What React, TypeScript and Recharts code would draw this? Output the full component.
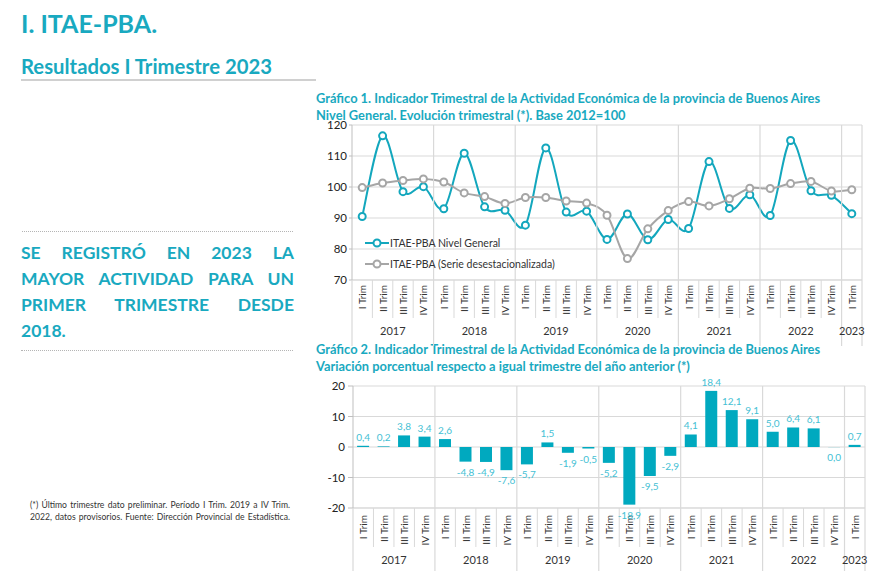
import React from 'react';
import {
  ComposedChart,
  Line,
  Bar,
  XAxis,
  YAxis,
  CartesianGrid,
  LabelList,
} from 'recharts';

// Categorías (I Trim 2017 a I Trim 2023)
const trimestres = [
  'I Trim', 'II Trim', 'III Trim', 'IV Trim',
  'I Trim', 'II Trim', 'III Trim', 'IV Trim',
  'I Trim', 'II Trim', 'III Trim', 'IV Trim',
  'I Trim', 'II Trim', 'III Trim', 'IV Trim',
  'I Trim', 'II Trim', 'III Trim', 'IV Trim',
  'I Trim', 'II Trim', 'III Trim', 'IV Trim',
  'I Trim',
];
const anios = [
  '2017', '2017', '2017', '2017',
  '2018', '2018', '2018', '2018',
  '2019', '2019', '2019', '2019',
  '2020', '2020', '2020', '2020',
  '2021', '2021', '2021', '2021',
  '2022', '2022', '2022', '2022',
  '2023',
];

// Gráfico 1: índice base 2012=100
const nivelGeneral = [
  90.5, 116.5, 98.5, 100.1,
  93.0, 110.9, 93.6, 92.5,
  87.7, 112.6, 91.9, 92.2,
  83.1, 91.3, 83.0, 89.5,
  86.6, 108.2, 93.1, 97.5,
  90.8, 115.0, 98.8, 97.3,
  91.4,
];
const desestacionalizada = [
  99.8, 101.3, 102.1, 102.6,
  101.6, 98.1, 96.9, 94.7,
  96.6, 96.6, 95.5, 94.8,
  90.9, 76.9, 86.5, 92.4,
  95.3, 93.9, 96.2, 99.6,
  99.5, 101.1, 101.8, 98.7,
  99.1,
];

// Gráfico 2: variación % interanual
const variacion = [
  0.4, 0.2, 3.8, 3.4,
  2.6, -4.8, -4.9, -7.6,
  -5.7, 1.5, -1.9, -0.5,
  -5.2, -18.9, -9.5, -2.9,
  4.1, 18.4, 12.1, 9.1,
  5.0, 6.4, 6.1, -0.04,
  0.7,
];

const ticksIndice = [70, 80, 90, 100, 110, 120];
const ticksVariacion = [-20, -10, 0, 10, 20];

const TEAL = '#19a9c0';
const LINEA = '#13a7bd';
const GRIS = '#a6a6a6';
const BARRA = '#00a9bf';
const ETIQUETA = '#45bfd4';
const GRILLA = '#d9d9d9';
const FUENTE = 'Lato, "Open Sans", sans-serif';

const datosIndice = trimestres.map((t, i) => ({
  periodo: `${anios[i]} ${t}`,
  nivel: nivelGeneral[i],
  desest: desestacionalizada[i],
}));

const datosVariacion = trimestres.map((t, i) => ({
  periodo: `${anios[i]} ${t}`,
  variacion: variacion[i],
}));

const fmt = (v: number) => (Math.round(v * 10) / 10).toFixed(1).replace('.', ',');

// eje de categorías de dos niveles (trimestre + año)
const makeTick = (cfg: {
  band: number;
  plotH: number;
  sepQ: number;
  sepY: number;
  textTop: number;
  yearY: number;
}) => (props: any) => {
  const { x, y, index } = props;
  const i = index;
  const left = x - cfg.band / 2;
  const inicio = i === 0 || anios[i] !== anios[i - 1];
  const nAnio = anios.filter((a) => a === anios[i]).length;
  const ultimo = i === trimestres.length - 1;
  return (
    <g>
      {inicio ? (
        <line x1={left} x2={left} y1={i === 0 ? y : y - cfg.plotH} y2={y + cfg.sepY} stroke={GRILLA} strokeWidth={1.2} />
      ) : (
        <line x1={left} x2={left} y1={y} y2={y + cfg.sepQ} stroke={GRILLA} strokeWidth={1} />
      )}
      {ultimo && (
        <line x1={x + cfg.band / 2} x2={x + cfg.band / 2} y1={y - cfg.plotH} y2={y + cfg.sepY} stroke={GRILLA} strokeWidth={1.2} />
      )}
      <text
        x={x}
        y={y + cfg.textTop}
        transform={`rotate(-90, ${x}, ${y + cfg.textTop})`}
        textAnchor="end"
        dominantBaseline="central"
        fontSize={10}
        fontFamily={FUENTE}
        fill="#333"
      >
        {trimestres[i]}
      </text>
      {inicio && (
        <text
          x={left + (nAnio * cfg.band) / 2}
          y={y + cfg.yearY}
          textAnchor="middle"
          fontSize={11}
          fontFamily={FUENTE}
          fill="#333"
        >
          {anios[i]}
        </text>
      )}
    </g>
  );
};

const series = [
  { name: 'ITAE-PBA Nivel General', color: LINEA },
  { name: 'ITAE-PBA (Serie desestacionalizada)', color: GRIS },
];

const LeyendaLineas = () => (
  <div style={{ fontFamily: FUENTE, fontSize: 10.5, color: '#333' }}>
    {series.map((s) => (
      <div key={s.name} style={{ display: 'flex', alignItems: 'center', height: 21 }}>
        <svg width={24} height={10} style={{ marginRight: 1 }}>
          <line x1={0} y1={5} x2={24} y2={5} stroke={s.color} strokeWidth={2} />
          <circle cx={12} cy={5} r={3.5} fill="#fff" stroke={s.color} strokeWidth={2} />
        </svg>
        <span>{s.name}</span>
      </div>
    ))}
  </div>
);

// suavizado tipo Excel (Catmull-Rom)
const curvaSuave: any = (context: any) => {
  let pts: number[][] = [];
  return {
    areaStart() {},
    areaEnd() {},
    lineStart() {
      pts = [];
    },
    point(x: number, y: number) {
      pts.push([+x, +y]);
    },
    lineEnd() {
      if (!pts.length) return;
      context.moveTo(pts[0][0], pts[0][1]);
      for (let i = 0; i < pts.length - 1; i++) {
        const p0 = pts[i - 1] || pts[i];
        const p1 = pts[i];
        const p2 = pts[i + 1];
        const p3 = pts[i + 2] || p2;
        context.bezierCurveTo(
          p1[0] + (p2[0] - p0[0]) / 6,
          p1[1] + (p2[1] - p0[1]) / 6,
          p2[0] - (p3[0] - p1[0]) / 6,
          p2[1] - (p3[1] - p1[1]) / 6,
          p2[0],
          p2[1]
        );
      }
    },
  };
};

const EtiquetaBarra = (props: any) => {
  const { x, y, width, height, value } = props;
  const v = Number(value);
  const top = Math.min(y, y + height);
  const bottom = Math.max(y, y + height);
  const cx = x + width / 2;
  const redondo = Math.round(v * 10) / 10;
  const ty = redondo > 0 ? top - 5 : bottom + 14;
  return (
    <text x={cx} y={ty} textAnchor="middle" fontSize={10} fontFamily={FUENTE} fill={ETIQUETA}>
      {fmt(v)}
    </text>
  );
};

const justificada: React.CSSProperties = { textAlign: 'justify', textAlignLast: 'justify' as any, whiteSpace: 'nowrap' };

export default function App() {
  const tituloGraf: React.CSSProperties = {
    position: 'absolute',
    left: 316,
    fontFamily: FUENTE,
    fontWeight: 700,
    fontSize: 12.85,
    color: TEAL,
    lineHeight: '16.5px',
    whiteSpace: 'nowrap',
  };
  return (
    <div style={{ position: 'absolute', left: 0, top: 0, width: 887, height: 571, background: '#fff', overflow: 'hidden', fontFamily: FUENTE }}>
      <div style={{ position: 'absolute', left: 21, top: 8, fontSize: 25, fontWeight: 700, color: TEAL, lineHeight: '30px' }}>
        I. ITAE-PBA.
      </div>
      <div style={{ position: 'absolute', left: 21, top: 53, fontSize: 20.3, fontWeight: 700, color: TEAL, lineHeight: '26px' }}>
        Resultados I Trimestre 2023
      </div>
      <div style={{ position: 'absolute', left: 21, top: 79, width: 295, height: 2, background: '#d0d0d0' }} />

      <div style={{ position: 'absolute', left: 22, top: 231, width: 271, borderTop: '1px dotted #b5b5b5' }} />
      <div style={{ position: 'absolute', left: 21, top: 240, width: 273, fontSize: 17.5, fontWeight: 700, color: TEAL, lineHeight: '26px' }}>
        <div style={justificada}>SE REGISTRÓ EN 2023 LA</div>
        <div style={justificada}>MAYOR ACTIVIDAD PARA UN</div>
        <div style={justificada}>PRIMER TRIMESTRE DESDE</div>
        <div>2018.</div>
      </div>
      <div style={{ position: 'absolute', left: 21, top: 350, width: 272, borderTop: '1px dotted #b5b5b5' }} />

      <div style={{ position: 'absolute', left: 30, top: 499, width: 260, fontSize: 8.6, color: '#333', lineHeight: '12px' }}>
        <div style={justificada}>(*) Último trimestre dato preliminar. Período I Trim. 2019 a IV Trim.</div>
        <div style={justificada}>2022, datos provisorios. Fuente: Dirección Provincial de Estadística.</div>
      </div>

      <div style={{ ...tituloGraf, top: 90 }}>
        Gráfico 1. Indicador Trimestral de la Actividad Económica de la provincia de Buenos Aires
        <br />
        Nivel General. Evolución trimestral (*). Base 2012=100
      </div>
      <div style={{ ...tituloGraf, top: 341 }}>
        Gráfico 2. Indicador Trimestral de la Actividad Económica de la provincia de Buenos Aires
        <br />
        Variación porcentual respecto a igual trimestre del año anterior (*)
      </div>

      <div style={{ position: 'absolute', left: 300, top: 119 }}>
        <ComposedChart width={587} height={231} data={datosIndice} margin={{ top: 6, right: 25, left: 0, bottom: 0 }}>
          <CartesianGrid vertical={false} stroke={GRILLA} strokeWidth={1.2} />
          <XAxis
            dataKey="periodo"
            scale="band"
            interval={0}
            height={70}
            tickLine={false}
            tickSize={0}
            tickMargin={0}
            axisLine={{ stroke: GRILLA }}
            tick={makeTick({ band: 510 / 25, plotH: 155, sepQ: 38, sepY: 66, textTop: 5, yearY: 55 })}
          />
          <YAxis
            width={52}
            domain={[70, 120]}
            ticks={ticksIndice}
            interval={0}
            tickSize={3}
            tickMargin={2}
            axisLine={{ stroke: '#bfbfbf' }}
            tickLine={{ stroke: '#bfbfbf' }}
            tick={{ fontSize: 11.5, fill: '#222', fontFamily: FUENTE }}
          />
          <Line
            type={curvaSuave}
            dataKey="nivel"
            name="ITAE-PBA Nivel General"
            stroke={LINEA}
            strokeWidth={2}
            dot={{ r: 3.5, fill: '#fff', stroke: LINEA, strokeWidth: 2 }}
            isAnimationActive={false}
          />
          <Line
            type={curvaSuave}
            dataKey="desest"
            name="ITAE-PBA (Serie desestacionalizada)"
            stroke={GRIS}
            strokeWidth={2}
            dot={{ r: 3.5, fill: '#fff', stroke: GRIS, strokeWidth: 2 }}
            isAnimationActive={false}
          />
        </ComposedChart>
      </div>
      <div style={{ position: 'absolute', left: 365, top: 232 }}>
        <LeyendaLineas />
      </div>

      <div style={{ position: 'absolute', left: 300, top: 368 }}>
        <ComposedChart width={587} height={203} data={datosVariacion} margin={{ top: 18, right: 22, left: 0, bottom: 0 }} barCategoryGap="20%">
          <CartesianGrid vertical={false} stroke={GRILLA} strokeWidth={1.2} />
          <XAxis
            dataKey="periodo"
            interval={0}
            height={63}
            tickLine={false}
            tickSize={0}
            tickMargin={0}
            axisLine={{ stroke: GRILLA }}
            tick={makeTick({ band: 512 / 25, plotH: 122, sepQ: 39, sepY: 63, textTop: 7, yearY: 56 })}
          />
          <YAxis
            width={53}
            domain={[-20, 20]}
            ticks={ticksVariacion}
            interval={0}
            tickSize={5}
            tickMargin={3}
            axisLine={{ stroke: '#bfbfbf' }}
            tickLine={{ stroke: '#bfbfbf' }}
            tick={{ fontSize: 11.5, fill: '#222', fontFamily: FUENTE }}
          />
          <Bar dataKey="variacion" fill={BARRA} isAnimationActive={false}>
            <LabelList dataKey="variacion" content={<EtiquetaBarra />} />
          </Bar>
        </ComposedChart>
      </div>
    </div>
  );
}
